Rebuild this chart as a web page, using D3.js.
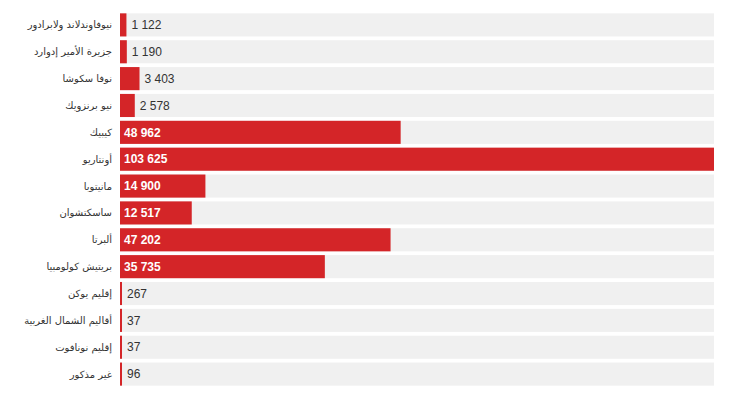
<!DOCTYPE html>
<html><head><meta charset="utf-8">
<script src="https://cdn.jsdelivr.net/npm/d3@7"></script>
<style>body{margin:0;background:#fff;font-family:"DejaVu Sans",Arial,sans-serif}</style>
</head><body><svg id="c" width="740" height="402"></svg>
<script>
const labels = ["نيوفاوندلاند ولابرادور","جزيرة الأمير إدوارد","نوفا سكوشا","نيو برنزويك","كيبيك","أونتاريو","مانيتوبا","ساسكتشوان","ألبرتا","بريتيش كولومبيا","إقليم يوكن","أقاليم الشمال الغربية","إقليم نونافوت","غير مذكور"];
const values = [1122,1190,3403,2578,48962,103625,14900,12517,47202,35735,267,37,37,96];

const plotLeft = 120, plotRight = 714, plotTop = 12, plotBottom = 387;
const svg = d3.select("#c");
const x = d3.scaleLinear().domain([0, d3.max(values)]).range([plotLeft, plotRight]);
const y = d3.scaleBand().domain(labels).range([plotTop, plotBottom]).paddingInner(0.14).paddingOuter(0.05);
const fmt = v => d3.format(",")(v).replace(/,/g, " ");
const barW = v => Math.max(2, x(v) - plotLeft);

const rows = svg.selectAll("g.row").data(labels.map((l, i) => ({l, v: values[i]}))).join("g");
rows.append("rect").attr("x", plotLeft).attr("y", d => y(d.l)).attr("width", plotRight - plotLeft)
  .attr("height", y.bandwidth()).attr("fill", "#f0f0f0");
rows.append("rect").attr("x", plotLeft).attr("y", d => y(d.l))
  .attr("width", d => barW(d.v)).attr("height", y.bandwidth()).attr("fill", "#d42528");
rows.append("text").attr("x", 112).attr("y", d => y(d.l) + y.bandwidth() / 2).attr("dy", "0.35em")
  .attr("text-anchor", "end").attr("font-size", 10).attr("fill", "#333").text(d => d.l);
rows.append("text")
  .attr("x", d => barW(d.v) > 60 ? plotLeft + 4 : plotLeft + barW(d.v) + 5)
  .attr("y", d => y(d.l) + y.bandwidth() / 2).attr("dy", "0.35em")
  .attr("font-size", 12).attr("font-family", "Arial, 'Liberation Sans', sans-serif")
  .attr("font-weight", d => barW(d.v) > 60 ? "bold" : "normal")
  .attr("fill", d => barW(d.v) > 60 ? "#fff" : "#333").text(d => fmt(d.v));
</script></body></html>
